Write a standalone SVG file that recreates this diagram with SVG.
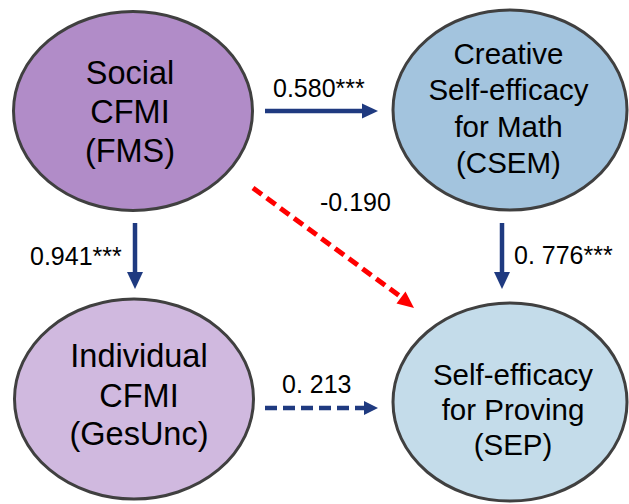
<svg xmlns="http://www.w3.org/2000/svg" width="629" height="504" viewBox="0 0 629 504">
<style>
  .node { stroke: #404040; stroke-width: 3; }
  .big { font-family: "Liberation Sans", Arial, sans-serif; font-size: 32.5px; fill: #000; text-anchor: middle; }
  .mid { font-family: "Liberation Sans", Arial, sans-serif; font-size: 29.5px; fill: #000; text-anchor: middle; }
  .lbl { font-family: "Liberation Sans", Arial, sans-serif; font-size: 25px; fill: #000; }
  .solid { stroke: #1F3A80; stroke-width: 4.5; fill: none; }
  .dash { stroke: #1F3A80; stroke-width: 4.5; fill: none; stroke-dasharray: 12 6; }
  .red { stroke: #FF0000; stroke-width: 5; fill: none; stroke-dasharray: 11 6; }
  .headb { fill: #1F3A80; }
  .headr { fill: #FF0000; }
</style>
<rect width="629" height="504" fill="#FFFFFF"/>
<g id="node-fms">
  <ellipse class="node" cx="133" cy="111" rx="119.5" ry="99.5" fill="#B18CC8"/>
  <text class="big" x="130" y="84">Social</text>
  <text class="big" x="130" y="123">CFMI</text>
  <text class="big" x="130" y="162">(FMS)</text>
</g>
<g id="node-csem">
  <ellipse class="node" cx="510" cy="110" rx="117" ry="100" fill="#A3C4DE"/>
  <text class="mid" x="508.5" y="64">Creative</text>
  <text class="mid" x="508.5" y="100">Self-efficacy</text>
  <text class="mid" x="508.5" y="137">for Math</text>
  <text class="mid" x="508.5" y="173">(CSEM)</text>
</g>
<g id="node-gesunc">
  <ellipse class="node" cx="134" cy="399" rx="119.5" ry="100" fill="#D0B9DF"/>
  <text class="big" x="139" y="367">Individual</text>
  <text class="big" x="139" y="407">CFMI</text>
  <text class="big" x="139" y="445">(GesUnc)</text>
</g>
<g id="node-sep">
  <ellipse class="node" cx="510" cy="402" rx="117" ry="99" fill="#C4DCEA"/>
  <text class="mid" x="513" y="385">Self-efficacy</text>
  <text class="mid" x="513" y="420">for Proving</text>
  <text class="mid" x="513" y="455">(SEP)</text>
</g>
<g id="connectors">
  <line class="solid" x1="265" y1="111" x2="363" y2="111"/>
  <polygon class="headb" points="362,103.5 378,111 362,118.5"/>
  <line class="solid" x1="135" y1="223" x2="135" y2="273"/>
  <polygon class="headb" points="127,272 143,272 135,289"/>
  <line class="solid" x1="502" y1="223" x2="502" y2="273"/>
  <polygon class="headb" points="494,272 510,272 502,289"/>
  <line class="red" x1="253" y1="188" x2="401" y2="297"/>
  <polygon class="headr" points="396.5,303.5 405.5,291.5 414,308"/>
  <line class="dash" x1="265" y1="408" x2="366" y2="408"/>
  <polygon class="headb" points="364,401 378,408 364,415"/>
</g>
<g id="labels">
  <text class="lbl" x="273" y="97">0.580***</text>
  <text class="lbl" x="320" y="211">-0.190</text>
  <text class="lbl" x="30" y="265">0.941***</text>
  <text class="lbl" x="514" y="264">0. 776***</text>
  <text class="lbl" x="282" y="393">0. 213</text>
</g>
</svg>
